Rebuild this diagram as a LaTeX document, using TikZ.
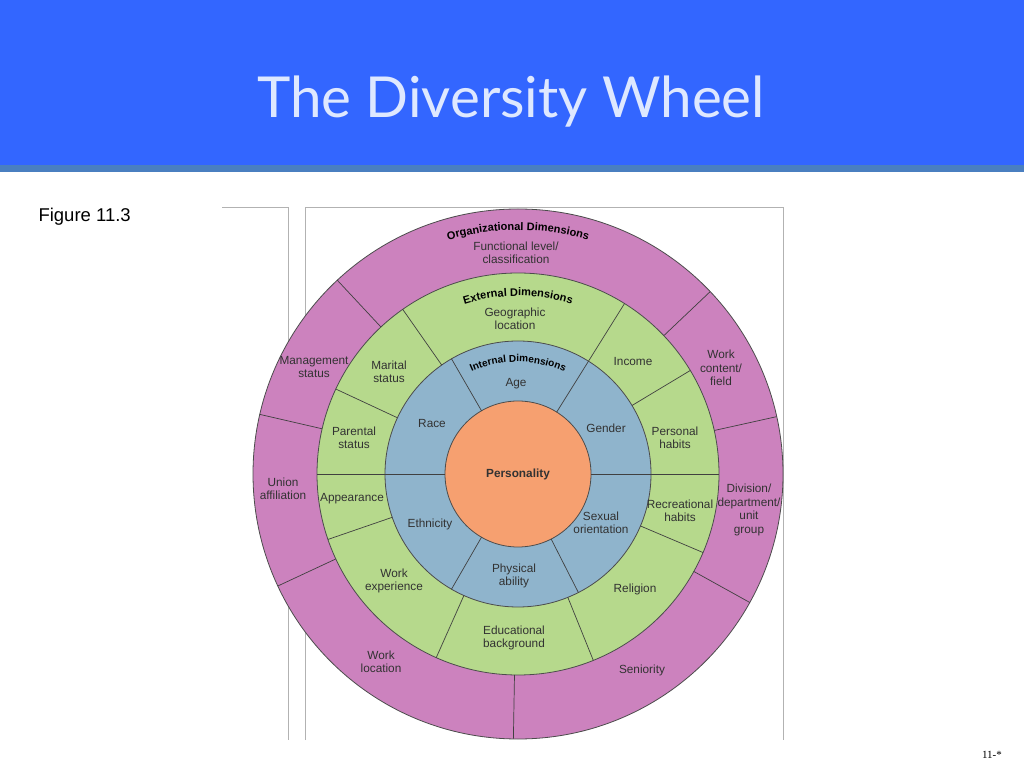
\documentclass[tikz,border=0pt]{standalone}
\usepackage{fontspec}
\setmainfont{Liberation Sans}
\newfontfamily\titlefont{Lato}
\newfontfamily\pagefont{Liberation Serif}
\usetikzlibrary{decorations.text}

\definecolor{barblue}{RGB}{51,102,255}
\definecolor{stripblue}{RGB}{74,127,192}
\definecolor{titletext}{RGB}{222,232,255}
\definecolor{orgpink}{RGB}{204,130,190}
\definecolor{extgreen}{RGB}{182,217,140}
\definecolor{intblue}{RGB}{143,180,204}
\definecolor{perorange}{RGB}{246,160,112}
\definecolor{wheeltext}{RGB}{50,50,50}

\tikzset{
  ring/.style={draw=black!70,line width=0.8pt},
  divider/.style={draw=black!75,line width=0.7pt},
  frame/.style={draw=black!30,line width=0.6pt},
  lbl/.style={text=wheeltext,align=center,font=\fontsize{11.8}{13.5}\selectfont,inner sep=0pt},
}

\begin{document}
\begin{tikzpicture}[x=1pt,y=1pt]
      \useasboundingbox (0,0) rectangle (1024,768);

      % title bar
      \fill[barblue] (0,603) rectangle (1024,768);
      \fill[stripblue] (0,596) rectangle (1024,603);
      \node[text=titletext,font=\titlefont\fontsize{56.5}{62}\selectfont] (title) at (511,666) {The Diversity Wheel};
      \node[font=\fontsize{18.5}{20}\selectfont,anchor=west] (fig) at (35,551) {Figure 11.3};
      \node[font=\pagefont\fontsize{11}{13}\selectfont] (pagenum) at (992,13) {11-*};

      % frame lines of the scanned figure
      \draw[frame] (222,561) -- (288,561) -- (288,28);
      \draw[frame] (305,28) -- (305,561) -- (783,561) -- (783,28);

      % the wheel
      \begin{scope}[shift={(518,294)}]
        \filldraw[ring,fill=orgpink] (0,0) circle (265);
        \filldraw[ring,fill=extgreen] (0,0) circle (201);
        \filldraw[ring,fill=intblue] (0,0) circle (133);
        \filldraw[ring,fill=perorange] (0,0) circle (73);

        \foreach \a in {12.5,43.5,133,167,205,269,331}
          \draw[divider] (\a:201) -- (\a:265);
        \foreach \a in {0,31,58,125,155,180,199,246,292,337}
          \draw[divider] (\a:133) -- (\a:201);
        \foreach \a in {0,58,120,180,240,297}
          \draw[divider] (\a:73) -- (\a:133);

        % ring headings
        \path[decorate,decoration={text along path,text align=center,
          text={|\bfseries\fontsize{11}{13}\selectfont|Organizational Dimensions}}]
          (-244,0) arc (180:0:244);
        \path[decorate,decoration={text along path,text align=center,
          text={|\bfseries\fontsize{11}{13}\selectfont|External Dimensions}}]
          (-178,0) arc (180:0:178);
        \path[decorate,decoration={text along path,text align=center,
          text={|\bfseries\fontsize{10}{12}\selectfont|Internal Dimensions}}]
          (-112,0) arc (180:0:112);
      \end{scope}

      % labels (positions in page coordinates)
      \node[lbl] (functional) at (516,515) {Functional level/\\classification};
      \node[lbl] (geographic) at (515,449) {Geographic\\location};
      \node[lbl] (age) at (516,384) {Age};
      \node[lbl] (management) at (314,401) {Management\\status};
      \node[lbl] (marital) at (389,396) {Marital\\status};
      \node[lbl] (income) at (633,406) {Income};
      \node[lbl] (workcontent) at (721,400) {Work\\content/\\field};
      \node[lbl] (race) at (432,344) {Race};
      \node[lbl] (gender) at (606,340) {Gender};
      \node[lbl] (parental) at (354,330) {Parental\\status};
      \node[lbl] (personal) at (675,330) {Personal\\habits};
      \node[lbl,font=\bfseries\fontsize{11.8}{13.5}\selectfont] (personality) at (518,294) {Personality};
      \node[lbl] (union) at (283,279) {Union\\affiliation};
      \node[lbl] (appearance) at (352,269) {Appearance};
      \node[lbl] (ethnicity) at (430,244) {Ethnicity};
      \node[lbl] (sexual) at (601,245) {Sexual\\orientation};
      \node[lbl] (recreational) at (680,257) {Recreational\\habits};
      \node[lbl] (division) at (749,258) {Division/\\department/\\unit\\group};
      \node[lbl] (workexp) at (394,187) {Work\\experience};
      \node[lbl] (physical) at (514,192) {Physical\\ability};
      \node[lbl] (religion) at (635,179) {Religion};
      \node[lbl] (educational) at (514,130) {Educational\\background};
      \node[lbl] (worklocation) at (381,106) {Work\\location};
      \node[lbl] (seniority) at (642,98) {Seniority};
\end{tikzpicture}
\end{document}
